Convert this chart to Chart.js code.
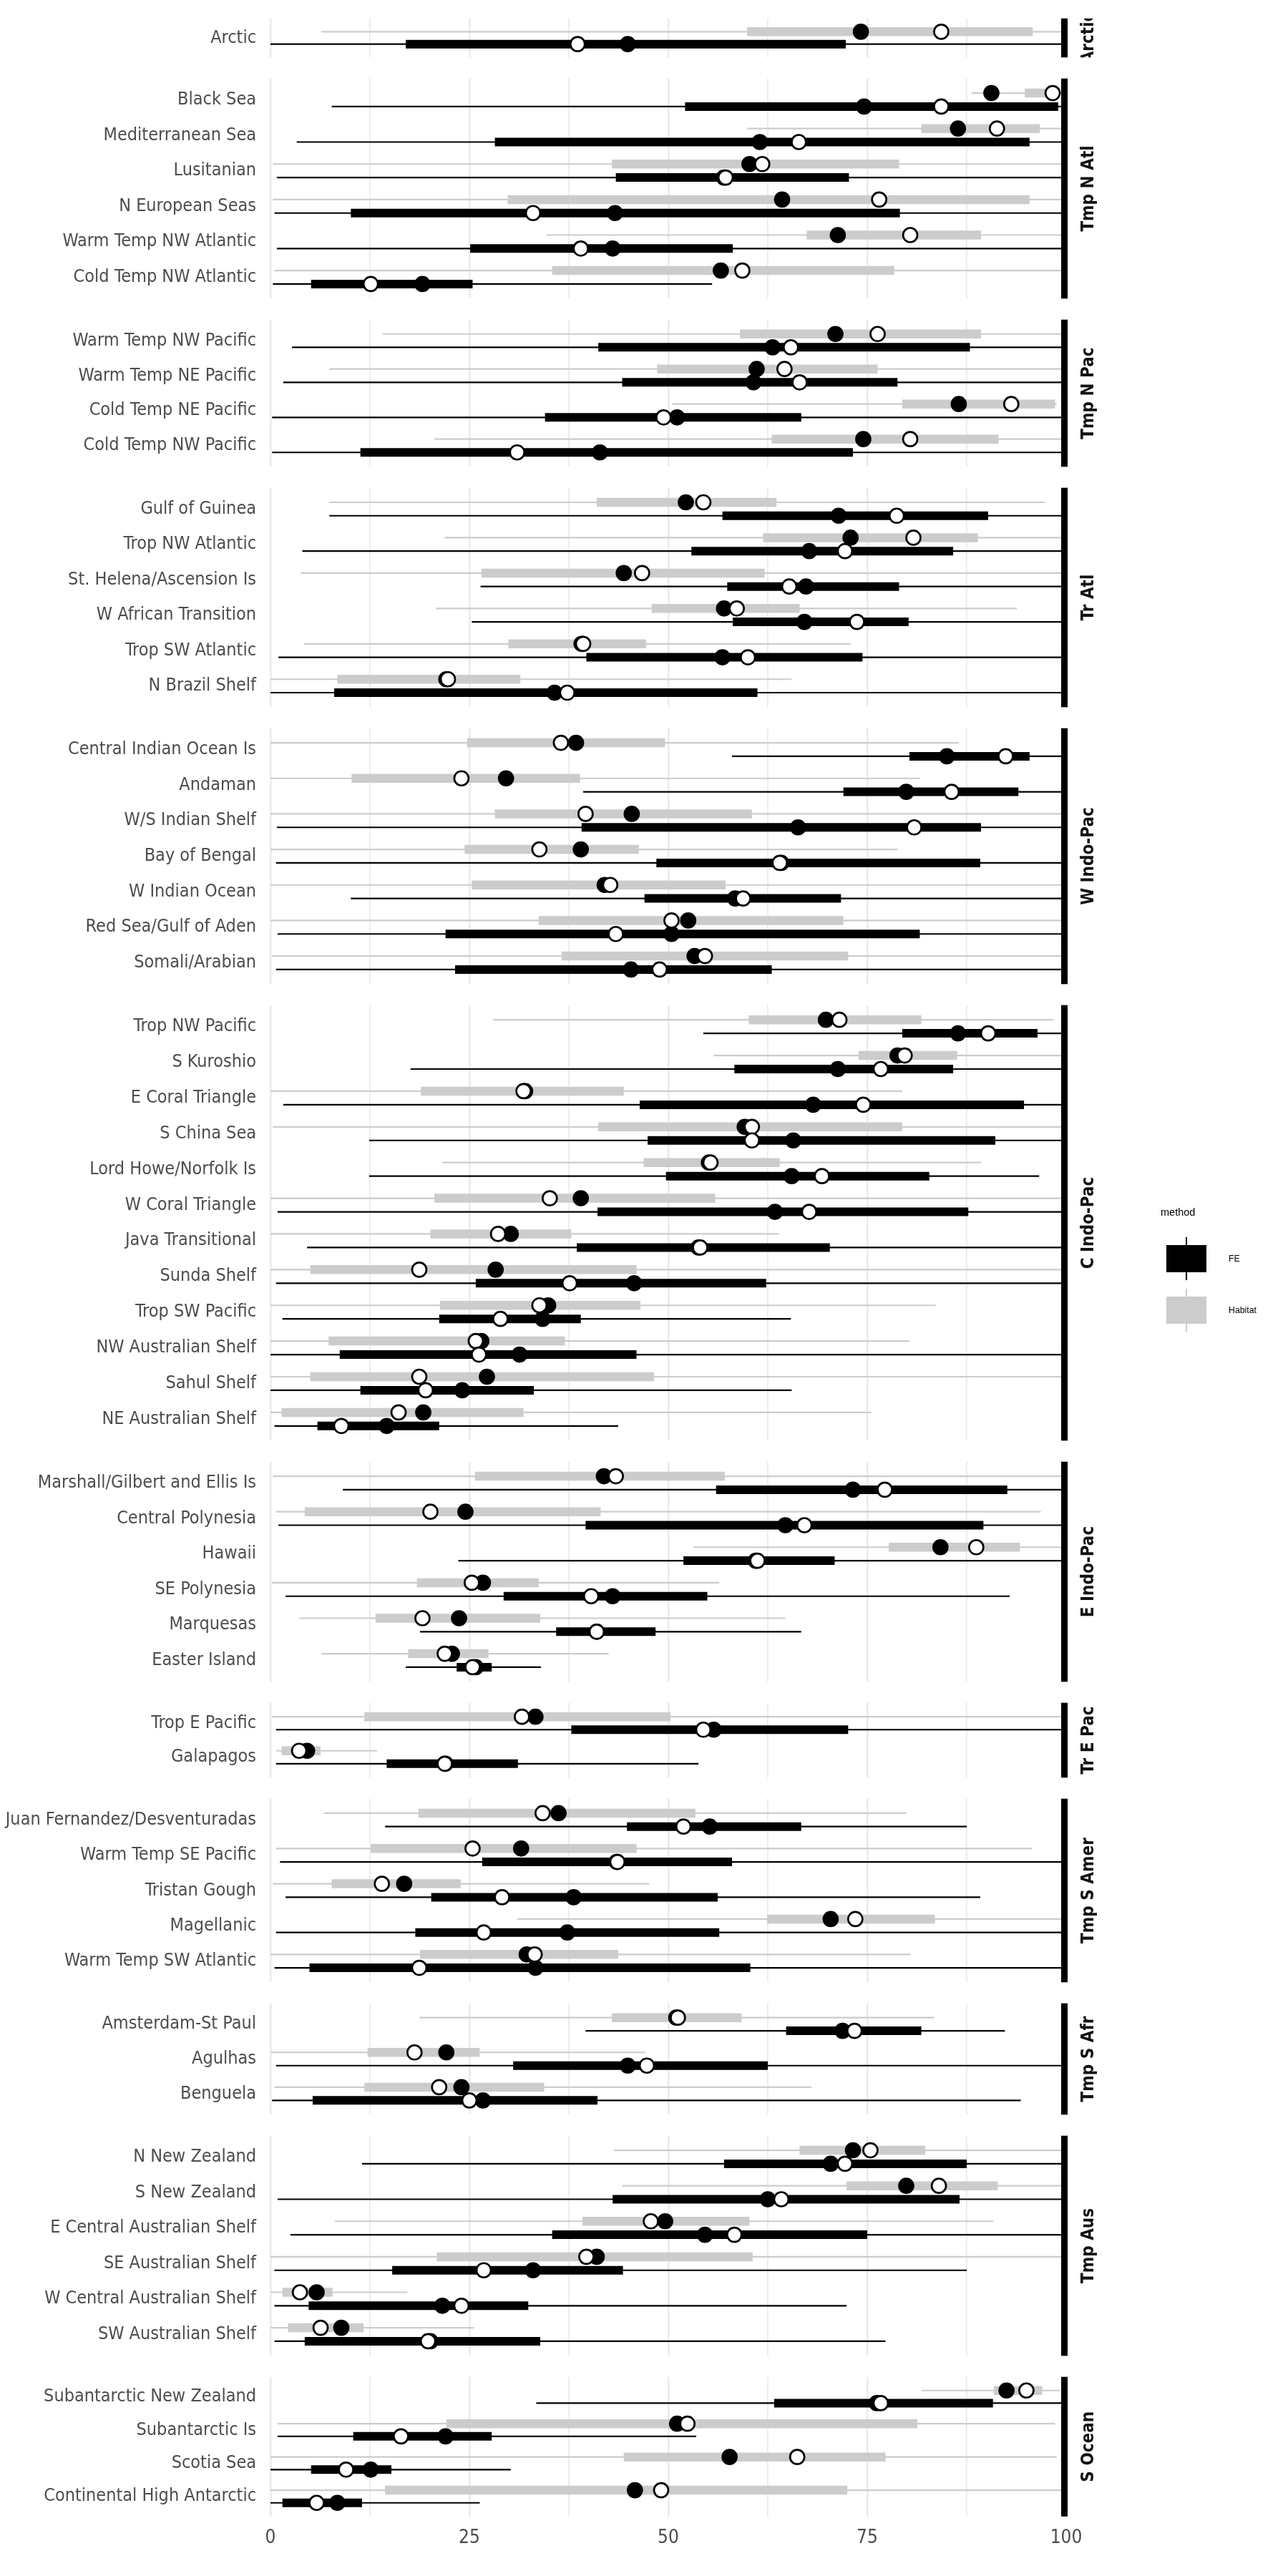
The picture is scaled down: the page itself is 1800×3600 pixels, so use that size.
<!DOCTYPE html>
<html>
<head>
<meta charset="utf-8">
<script src="https://cdn.jsdelivr.net/npm/chart.js@4.4.1/dist/chart.umd.min.js"></script>
<style>
html, body { margin: 0; padding: 0; background: #ffffff; }
body { position: relative; width: 1800px; height: 3600px; overflow: hidden; }
canvas.panel { position: absolute; left: 0; }
#legend { position: absolute; left: 0; top: 0; z-index: 5; font-family: 'Liberation Sans', Arial, sans-serif; color: #000; }
</style>
</head>
<body>
<div id="legend"></div>
<script>
// ---------------- DATA ----------------
const realms = ["Arctic", "Tmp N Atl", "Tmp N Pac", "Tr Atl", "W Indo-Pac", "C Indo-Pac",
  "E Indo-Pac", "Tr E Pac", "Tmp S Amer", "Tmp S Afr", "Tmp Aus", "S Ocean"];
const realmSizes = [1, 6, 4, 6, 7, 12, 6, 2, 5, 3, 6, 4];

const regions = [
  "Arctic",
  "Black Sea", "Mediterranean Sea", "Lusitanian", "N European Seas", "Warm Temp NW Atlantic", "Cold Temp NW Atlantic",
  "Warm Temp NW Pacific", "Warm Temp NE Pacific", "Cold Temp NE Pacific", "Cold Temp NW Pacific",
  "Gulf of Guinea", "Trop NW Atlantic", "St. Helena/Ascension Is", "W African Transition", "Trop SW Atlantic", "N Brazil Shelf",
  "Central Indian Ocean Is", "Andaman", "W/S Indian Shelf", "Bay of Bengal", "W Indian Ocean", "Red Sea/Gulf of Aden", "Somali/Arabian",
  "Trop NW Pacific", "S Kuroshio", "E Coral Triangle", "S China Sea", "Lord Howe/Norfolk Is", "W Coral Triangle", "Java Transitional",
  "Sunda Shelf", "Trop SW Pacific", "NW Australian Shelf", "Sahul Shelf", "NE Australian Shelf",
  "Marshall/Gilbert and Ellis Is", "Central Polynesia", "Hawaii", "SE Polynesia", "Marquesas", "Easter Island",
  "Trop E Pacific", "Galapagos",
  "Juan Fernandez/Desventuradas", "Warm Temp SE Pacific", "Tristan Gough", "Magellanic", "Warm Temp SW Atlantic",
  "Amsterdam-St Paul", "Agulhas", "Benguela",
  "N New Zealand", "S New Zealand", "E Central Australian Shelf", "SE Australian Shelf", "W Central Australian Shelf", "SW Australian Shelf",
  "Subantarctic New Zealand", "Subantarctic Is", "Scotia Sea", "Continental High Antarctic"
];

// Habitat method
const habMin = [6.4,
  88.1, 59.9, 0.3, 0.3, 34.7, 0.5,
  14.1, 7.4, 50.5, 20.6,
  7.4, 21.9, 3.8, 20.8, 4.2, 0,
  0, 0, 0, 0, 0, 0, 0.2,
  28.0, 55.7, 0, 0.3, 21.6, 0, 0, 0, 0, 0, 0, 0,
  0.3, 0.7, 53.1, 0.2, 3.6, 6.4,
  0.2, 0.7,
  6.7, 0.7, 0.3, 31.0, 0,
  18.7, 0, 0.5,
  43.2, 44.2, 8.1, 0, 0, 0,
  81.8, 0.9, 0, 0];
const habQ1 = [59.9,
  94.8, 81.8, 42.9, 29.8, 67.4, 35.4,
  59.0, 48.6, 79.4, 63.0,
  41.0, 61.9, 26.5, 47.9, 29.9, 8.4,
  24.7, 10.2, 28.2, 24.4, 25.3, 33.7, 36.6,
  60.1, 73.9, 18.9, 41.2, 46.9, 20.6, 20.1, 5.0, 21.3, 7.3, 5.0, 1.4,
  25.7, 4.3, 77.7, 18.4, 13.2, 17.3,
  11.8, 1.4,
  18.6, 12.6, 7.7, 62.4, 18.8,
  42.9, 12.2, 11.8,
  66.5, 72.4, 39.2, 20.9, 1.5, 2.2,
  90.9, 22.1, 44.4, 14.4];
const habQ3 = [95.8,
  99.2, 96.7, 79.0, 95.4, 89.3, 78.4,
  89.3, 76.3, 98.6, 91.5,
  63.6, 88.9, 62.1, 66.5, 47.2, 31.4,
  49.6, 38.9, 60.5, 46.3, 57.2, 72.0, 72.6,
  81.8, 86.3, 44.4, 79.4, 64.0, 55.9, 37.8, 46.0, 46.5, 37.0, 48.2, 31.8,
  57.1, 41.5, 94.2, 33.7, 33.9, 27.4,
  50.3, 6.3,
  53.4, 46.0, 23.9, 83.5, 43.7,
  59.2, 26.3, 34.4,
  82.3, 91.4, 60.2, 60.6, 7.8, 11.7,
  97.0, 81.3, 77.3, 72.5];
const habMax = [100,
  100, 100, 100, 100, 100, 100,
  100, 100, 98.8, 100,
  97.3, 100, 100, 93.8, 72.9, 65.5,
  86.5, 81.6, 100, 78.8, 100, 100, 100,
  98.4, 100, 79.4, 100, 89.3, 100, 63.9, 100, 83.6, 80.3, 100, 75.5,
  100, 96.8, 100, 56.4, 64.7, 42.5,
  100, 13.4,
  79.9, 95.7, 47.6, 100, 80.5,
  83.4, 47.1, 68.0,
  100, 100, 90.9, 100, 17.2, 25.6,
  99.2, 98.6, 98.8, 99.5];
const habBlack = [74.2,
  90.6, 86.4, 60.2, 64.3, 71.3, 56.6,
  71.0, 61.1, 86.5, 74.5,
  52.2, 72.9, 44.4, 57.0, 39.1, 22.1,
  38.4, 29.6, 45.4, 39.0, 42.0, 52.5, 53.3,
  69.8, 78.8, 32.0, 59.6, 55.1, 39.0, 30.2, 28.3, 34.9, 26.5, 27.2, 19.2,
  41.9, 24.5, 84.2, 26.7, 23.7, 22.8,
  33.3, 4.6,
  36.2, 31.5, 16.8, 70.4, 32.2,
  51.0, 22.1, 24.0,
  73.2, 79.9, 49.6, 41.0, 5.8, 8.9,
  92.5, 51.1, 57.7, 45.8];
const habWhite = [84.3,
  98.3, 91.3, 61.8, 76.5, 80.4, 59.3,
  76.3, 64.6, 93.1, 80.4,
  54.4, 80.8, 46.7, 58.6, 39.3, 22.3,
  36.5, 24.0, 39.6, 33.8, 42.7, 50.4, 54.6,
  71.5, 79.7, 31.8, 60.5, 55.3, 35.1, 28.6, 18.7, 33.8, 25.8, 18.7, 16.1,
  43.4, 20.1, 88.7, 25.3, 19.1, 21.9,
  31.6, 3.6,
  34.2, 25.4, 14.0, 73.5, 33.2,
  51.2, 18.1, 21.2,
  75.4, 84.0, 47.8, 39.7, 3.7, 6.3,
  95.0, 52.4, 66.2, 49.1];

// FE method
const feMin = [0,
  7.7, 3.3, 0.8, 0.5, 0.8, 0.3,
  2.7, 1.6, 0.2, 0.2,
  7.4, 4.0, 26.4, 25.3, 1.0, 0,
  58.0, 39.3, 0.8, 0.7, 10.1, 0.9, 0.7,
  54.4, 17.6, 1.6, 12.4, 12.4, 0.9, 4.6, 0.7, 1.5, 0, 0, 0.5,
  9.1, 1.0, 23.6, 1.9, 18.8, 17.0,
  0.7, 0.7,
  14.4, 1.2, 1.9, 0.7, 0.5,
  39.6, 0.7, 0.2,
  11.5, 0.9, 2.5, 0.5, 0.5, 0.5,
  33.4, 0.9, 0, 0];
const feQ1 = [17.0,
  52.1, 28.2, 43.4, 10.1, 25.1, 5.1,
  41.2, 44.2, 34.5, 11.3,
  56.8, 52.9, 57.4, 58.1, 39.7, 8.0,
  80.3, 72.0, 39.1, 48.5, 47.0, 22.0, 23.2,
  79.4, 58.3, 46.4, 47.4, 49.7, 41.1, 38.5, 25.8, 21.2, 8.7, 11.3, 5.9,
  56.0, 39.6, 51.9, 29.3, 35.9, 23.4,
  37.8, 14.6,
  44.8, 26.6, 20.2, 18.2, 4.9,
  64.8, 30.5, 5.3,
  57.0, 43.0, 35.4, 15.3, 4.8, 4.3,
  63.3, 10.4, 5.1, 1.5];
const feQ3 = [72.3,
  99.0, 95.4, 72.7, 79.1, 58.1, 25.4,
  87.9, 78.8, 66.7, 73.2,
  90.2, 85.8, 79.0, 80.2, 74.4, 61.2,
  95.4, 94.0, 89.3, 89.2, 71.7, 81.6, 63.0,
  96.4, 85.8, 94.7, 91.1, 82.8, 87.7, 70.3, 62.3, 39.0, 46.0, 33.1, 21.2,
  92.6, 89.6, 70.9, 54.9, 48.4, 27.8,
  72.6, 31.1,
  66.7, 58.0, 56.2, 56.4, 60.3,
  81.8, 62.5, 41.1,
  87.5, 86.6, 75.0, 44.3, 32.4, 33.9,
  90.8, 27.8, 15.2, 11.5];
const feMax = [100,
  100, 100, 100, 100, 100, 55.5,
  100, 100, 100, 100,
  100, 100, 100, 100, 100, 100,
  100, 100, 100, 100, 100, 100, 100,
  100, 100, 100, 100, 96.6, 100, 100, 100, 65.4, 100, 65.5, 43.7,
  100, 100, 100, 92.9, 66.7, 34.0,
  100, 53.8,
  87.5, 100, 89.2, 100, 100,
  92.3, 100, 94.3,
  100, 100, 100, 87.5, 72.4, 77.3,
  100, 53.5, 30.2, 26.3];
const feBlack = [44.9,
  74.6, 61.5, 57.0, 43.3, 43.0, 19.1,
  63.1, 60.7, 51.1, 41.4,
  71.4, 67.7, 67.3, 67.1, 56.8, 35.7,
  85.0, 79.9, 66.3, 64.2, 58.4, 50.4, 45.3,
  86.4, 71.3, 68.2, 65.7, 65.5, 63.4, 53.8, 45.7, 34.2, 31.3, 24.1, 14.6,
  73.2, 64.7, 61.0, 43.0, 41.0, 25.8,
  55.7, 22.0,
  55.2, 43.5, 38.1, 37.3, 33.3,
  71.9, 44.9, 26.7,
  70.4, 62.5, 54.6, 33.0, 21.6, 20.1,
  76.2, 22.0, 12.6, 8.4];
const feWhite = [38.6,
  84.3, 66.4, 57.2, 33.0, 39.0, 12.6,
  65.4, 66.5, 49.4, 31.0,
  78.7, 72.2, 65.2, 73.7, 60.0, 37.3,
  92.4, 85.6, 80.9, 64.0, 59.4, 43.4, 48.9,
  90.2, 76.7, 74.5, 60.5, 69.3, 67.7, 54.0, 37.6, 28.9, 26.2, 19.5, 8.9,
  77.2, 67.1, 61.2, 40.3, 41.0, 25.4,
  54.4, 21.9,
  51.9, 43.6, 29.1, 26.8, 18.7,
  73.4, 47.3, 25.0,
  72.2, 64.2, 58.3, 26.8, 24.0, 19.8,
  76.7, 16.4, 9.5, 5.8];

const xTickLabels = [0, 25, 50, 75, 100];
const xGridValues = [0, 12.5, 25, 37.5, 50, 62.5, 75, 87.5, 100];
const methods = ["FE", "Habitat"];
const legendTitle = "method";

// ---------------- STYLE / LAYOUT ----------------
const W = 1800;
const X0 = 378;          // pixel of value 0
const X100 = 1490;       // pixel of value 100
const TOP = 23;          // top of first panel
const UNIT = 50.36;      // px per category
const GAP = 24;          // gap between panels
const OFF = 0.19;        // dodge offset
const GREY = '#cccccc';
const BLACK = '#000000';
const NARROW = "'Liberation Sans Narrow', 'Arial Narrow', 'DejaVu Sans Condensed', sans-serif";
const methodColors = [BLACK, GREY];

Chart.defaults.font.family = NARROW;

function makeStripPlugin(label) {
  return {
    id: 'strip',
    afterDraw(chart) {
      const { ctx, chartArea } = chart;
      const xs = chart.scales.x;
      const xr = xs.getPixelForValue(100);
      ctx.save();
      ctx.fillStyle = BLACK;
      ctx.fillRect(xr - 7, chartArea.top, 9, chartArea.bottom - chartArea.top);
      ctx.beginPath();
      ctx.rect(xr + 3, chartArea.top, 80, chartArea.bottom - chartArea.top);
      ctx.clip();
      ctx.translate(1522, (chartArea.top + chartArea.bottom) / 2);
      ctx.rotate(-Math.PI / 2);
      ctx.font = "bold 24px " + NARROW;
      ctx.fillStyle = '#111111';
      ctx.textAlign = 'center';
      ctx.textBaseline = 'middle';
      ctx.fillText(label, 0, 0);
      ctx.restore();
    }
  };
}

let start = 0;
let panelTop = TOP;
realms.forEach((realm, p) => {
  const n = realmSizes[p];
  const names = regions.slice(start, start + n);
  const s0 = start;
  const panelH = (n + 0.2) * UNIT;
  const isLast = p === realms.length - 1;
  const topR = Math.round(panelTop);
  const botR = Math.round(panelTop + panelH);
  const padT = 10;
  const padB = isLast ? 4 : 10;
  const axisH = isLast ? 48 : 0;
  const H = (botR - topR) + padT + padB + axisH;

  const canvas = document.createElement('canvas');
  canvas.className = 'panel';
  canvas.width = W;
  canvas.height = H;
  canvas.style.width = W + 'px';
  canvas.style.height = H + 'px';
  canvas.style.top = (topR - padT) + 'px';
  document.body.appendChild(canvas);

  const segs = (lo, hi, off) => {
    const d = [];
    for (let j = 0; j < n; j++) {
      const k = s0 + j;
      d.push({ x: lo[k], y: j + off }, { x: hi[k], y: j + off }, { x: null, y: null });
    }
    return d;
  };
  const pts = (hArr, fArr) => {
    const d = [];
    for (let j = 0; j < n; j++) {
      const k = s0 + j;
      d.push({ x: hArr[k], y: j - OFF }, { x: fArr[k], y: j + OFF });
    }
    return d;
  };
  const lineDs = (label, data, color, width, order) => ({
    label, data, borderColor: color, backgroundColor: color, borderWidth: width,
    borderCapStyle: 'butt', pointRadius: 0, pointHoverRadius: 0, spanGaps: false,
    fill: false, tension: 0, order
  });
  const dotDs = (label, data, fill, order) => ({
    label, data, showLine: false, pointRadius: 10, pointHoverRadius: 10,
    pointBackgroundColor: fill, pointBorderColor: BLACK, pointBorderWidth: 2.7,
    borderColor: BLACK, backgroundColor: fill, order
  });

  const datasets = [
    lineDs('Habitat range', segs(habMin, habMax, -OFF), GREY, 2.2, 6),
    lineDs('FE range', segs(feMin, feMax, OFF), BLACK, 2.2, 5),
    lineDs('Habitat interval', segs(habQ1, habQ3, -OFF), GREY, 12.5, 4),
    lineDs('FE interval', segs(feQ1, feQ3, OFF), BLACK, 12, 3),
    dotDs('black points', pts(habBlack, feBlack), BLACK, 1),
    dotDs('white points', pts(habWhite, feWhite), '#ffffff', 0)
  ];

  new Chart(canvas, {
    type: 'line',
    data: { datasets },
    options: {
      responsive: false,
      maintainAspectRatio: false,
      animation: false,
      devicePixelRatio: 1,
      events: [],
      layout: { padding: { left: 0, right: W - X100, top: padT, bottom: padB } },
      plugins: { legend: { display: false }, tooltip: { enabled: false }, title: { display: false } },
      scales: {
        x: {
          type: 'linear', position: 'bottom', min: 0, max: 100,
          afterBuildTicks: (s) => { s.ticks = xGridValues.map(v => ({ value: v })); },
          afterFit: (s) => { s.paddingLeft = 0; s.paddingRight = 0; s.paddingTop = 0; s.paddingBottom = 0; },
          border: { display: false },
          grid: {
            drawTicks: false,
            color: '#ebebeb',
            lineWidth: (ctx) => (ctx.tick && ctx.tick.value % 25 === 0) ? 2.6 : 1.8
          },
          ticks: {
            display: isLast, autoSkip: false, maxRotation: 0, minRotation: 0, padding: 15,
            color: '#4d4d4d', font: { family: NARROW, size: 26 },
            callback: (v) => xTickLabels.includes(v) ? String(v) : ''
          }
        },
        y: {
          type: 'linear', reverse: true, min: -0.6, max: n - 0.4,
          afterBuildTicks: (s) => { s.ticks = names.map((_, j) => ({ value: j })); },
          afterFit: (s) => { s.width = X0; s.paddingTop = 0; s.paddingBottom = 0; },
          border: { display: false },
          grid: { display: false, drawTicks: false },
          ticks: {
            autoSkip: false, padding: 20, color: '#4d4d4d',
            font: { family: NARROW, size: 25 },
            callback: (v) => names[Math.round(v)]
          }
        }
      }
    },
    plugins: [makeStripPlugin(realm)]
  });

  start += n;
  panelTop += panelH + GAP;
});

// ---------------- LEGEND (HTML text) ----------------
(function () {
  const lg = document.getElementById('legend');
  const title = document.createElement('div');
  title.textContent = legendTitle;
  Object.assign(title.style, { position: 'absolute', left: '1622px', top: '1685px', fontSize: '14.5px', lineHeight: '18px', whiteSpace: 'nowrap' });
  lg.appendChild(title);
  methods.forEach((m, i) => {
    const cy = 1759 + i * 72;
    const box = document.createElement('div');
    Object.assign(box.style, { position: 'absolute', left: '1630px', top: (cy - 19) + 'px', width: '56px', height: '38px', background: methodColors[i] });
    lg.appendChild(box);
    const ln = document.createElement('div');
    Object.assign(ln.style, { position: 'absolute', left: '1657px', top: (cy - 30) + 'px', width: '2px', height: '60px', background: methodColors[i] });
    lg.appendChild(ln);
    const t = document.createElement('div');
    t.textContent = m;
    Object.assign(t.style, { position: 'absolute', left: '1717px', top: (cy - 8) + 'px', fontSize: '12.3px', lineHeight: '16px', whiteSpace: 'nowrap' });
    lg.appendChild(t);
  });
})();
</script>
</body>
</html>
